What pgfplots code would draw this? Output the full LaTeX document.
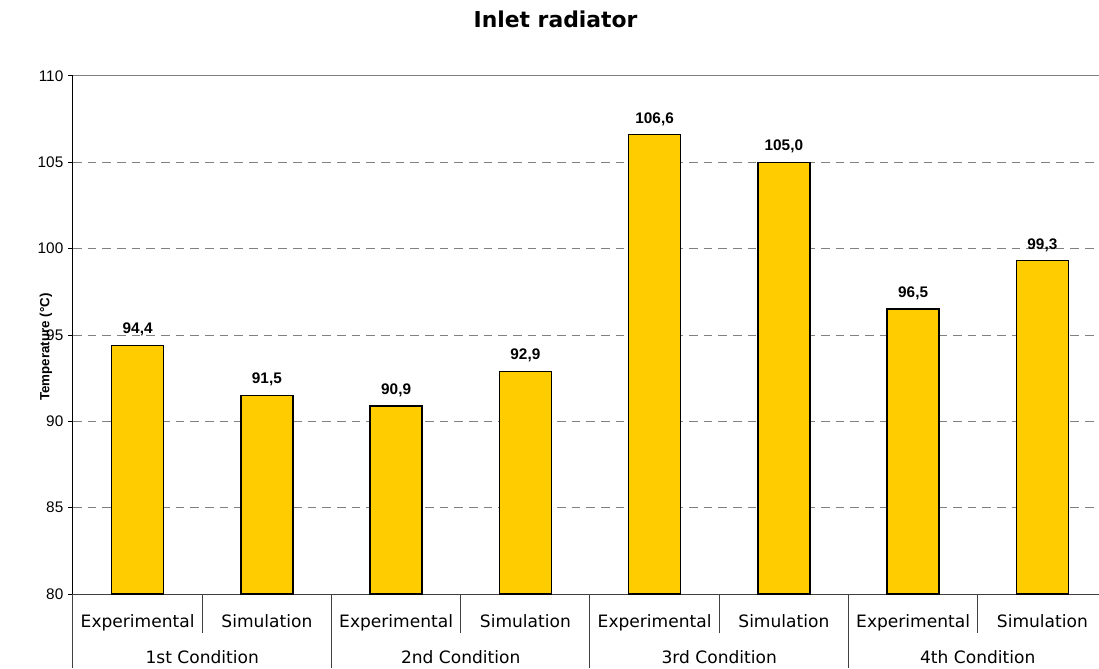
\documentclass[border=0pt]{standalone}
\usepackage{pgfplots}
\pgfplotsset{compat=1.18}
\usepackage{fontspec}
\setmainfont{Liberation Sans}
\newfontfamily\verdana{DejaVu Sans}
\definecolor{baryellow}{HTML}{FFCC00}
\definecolor{gridgray}{HTML}{808080}

\begin{document}
\begin{tikzpicture}
\path[use as bounding box] (-54.75pt,-55.5pt) rectangle (769.5pt,445.5pt);
\begin{axis}[
    at={(0,0)}, anchor=south west,
    scale only axis,
    width=775.5pt, height=388.5pt,
    xmin=-0.5, xmax=7.5,
    ymin=80, ymax=110,
    ytick={80,85,...,110},
    xtick={0,...,7},
    xticklabels={Experimental,Simulation,Experimental,Simulation,Experimental,Simulation,Experimental,Simulation},
    axis x line*=bottom, axis y line*=left,
    x axis line style={-, draw=black!75, line width=0.75pt},
    y axis line style={-, draw=black, line width=0.75pt},
    tick align=outside,
    major tick length=3.75pt,
    ytick style={black, line width=0.75pt},
    xtick style={draw=none},
    yticklabel style={font=\fontsize{11.5}{13}\selectfont, /pgf/number format/assume math mode=true},
    xticklabel style={font=\verdana\fontsize{12.8}{15}\selectfont, anchor=base, yshift=-21.5pt},
    ymajorgrids,
    major grid style={gridgray, line width=0.75pt, dash pattern=on 6.5pt off 4.5pt},
    ylabel={\bfseries Temperature (°C)},
    ylabel style={font=\fontsize{10}{12}\selectfont, at={(axis description cs:0,0.5)}, anchor=center, yshift=20.25pt, xshift=-9pt},
    title={Inlet radiator},
    title style={font=\verdana\bfseries\fontsize{16.4}{19}\selectfont, at={(axis description cs:0,1)}, anchor=center, xshift=361.9pt, yshift=36.75pt},
    clip mode=individual,
    nodes near coords={\pgfmathprintnumber[fixed,fixed zerofill,precision=1,use comma,assume math mode=true]{\pgfplotspointmeta}},
    nodes near coords style={font=\bfseries\fontsize{11.5}{13}\selectfont, yshift=3pt},
  ]
  \addplot[ybar, bar width=0.402, fill=baryellow, draw=black, line width=1.1pt]
    coordinates {(0,94.4) (1,91.5) (2,90.9) (3,92.9) (4,106.6) (5,105.0) (6,96.5) (7,99.3)};
  \draw[gridgray, line width=0.75pt] (rel axis cs:0,1) -- (rel axis cs:1,1);
  % separators under the axis
  \pgfplotsinvokeforeach{-0.5,1.5,3.5,5.5}{
    \draw[black!75, line width=0.75pt] (axis cs:#1,80) -- ([yshift=-55.5pt]axis cs:#1,80);
  }
  \pgfplotsinvokeforeach{0.5,2.5,4.5,6.5}{
    \draw[black!75, line width=0.75pt] (axis cs:#1,80) -- ([yshift=-29pt]axis cs:#1,80);
  }
  \node[font=\verdana\fontsize{12.8}{15}\selectfont, anchor=base, yshift=-51.75pt] at (axis cs:0.5,80) {1st Condition};
  \node[font=\verdana\fontsize{12.8}{15}\selectfont, anchor=base, yshift=-51.75pt] at (axis cs:2.5,80) {2nd Condition};
  \node[font=\verdana\fontsize{12.8}{15}\selectfont, anchor=base, yshift=-51.75pt] at (axis cs:4.5,80) {3rd Condition};
  \node[font=\verdana\fontsize{12.8}{15}\selectfont, anchor=base, yshift=-51.75pt] at (axis cs:6.5,80) {4th Condition};
\end{axis}
\end{tikzpicture}
\end{document}
